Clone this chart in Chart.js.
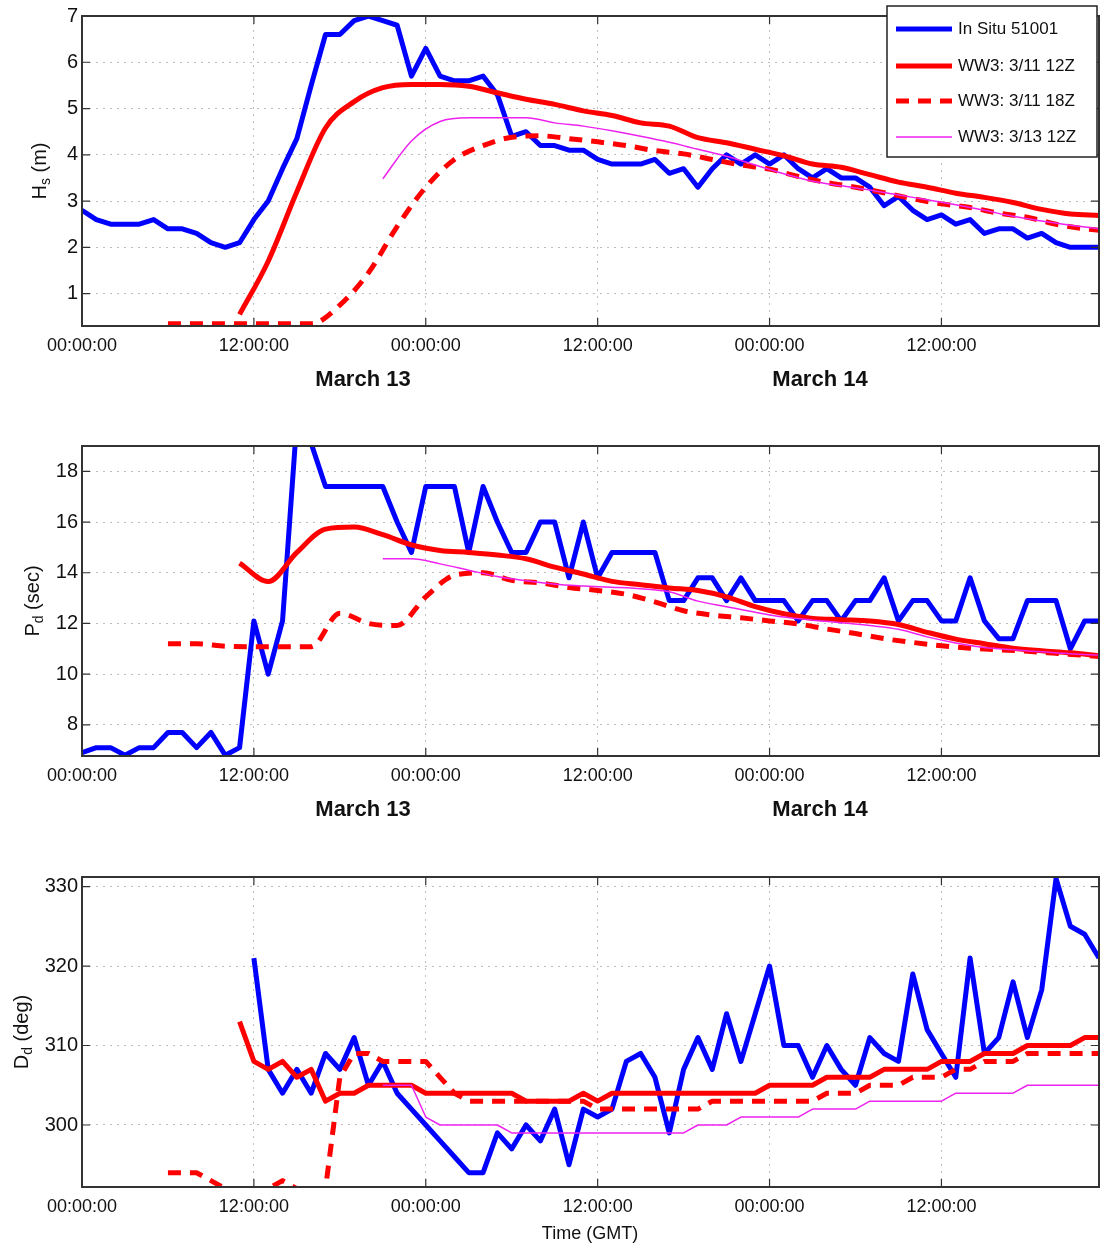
<!DOCTYPE html>
<html>
<head>
<meta charset="utf-8">
<script src="https://cdn.jsdelivr.net/npm/chart.js@4.4.1/dist/chart.umd.min.js"></script>
<style>
  body { margin: 0; background: #fff; }
  #wrap { position: relative; width: 1100px; height: 1249px; }
  canvas { position: absolute; left: 0; }
</style>
</head>
<body>
<div id="wrap">
  <canvas id="hsChart" width="1100" height="420" style="top:0px"></canvas>
  <canvas id="pdChart" width="1100" height="420" style="top:420px"></canvas>
  <canvas id="ddChart" width="1100" height="409" style="top:840px"></canvas>
</div>
<script>
// time axis is in hours after 00:00 GMT of the first day shown
const xTickHours = [0, 12, 24, 36, 48, 60];
const xTickLabels = ['00:00:00', '12:00:00', '00:00:00', '12:00:00', '00:00:00', '12:00:00'];
const dayLabels = ['March 13', 'March 14'];
const seriesNames = ['In Situ 51001', 'WW3: 3/11 12Z', 'WW3: 3/11 18Z', 'WW3: 3/13 12Z'];

const hsTicks = [1, 2, 3, 4, 5, 6, 7];
const pdTicks = [8, 10, 12, 14, 16, 18];
const ddTicks = [300, 310, 320, 330];

function hourRange(start, end, step) {
  const out = [];
  for (let h = start; h <= end; h += step) out.push(h);
  if (out[out.length - 1] !== end) out.push(end);
  return out;
}

const obsHours = hourRange(0, 71, 1);
const runAHours = hourRange(11, 71, 2);
const runBHours = hourRange(6, 71, 2);
const runCHours = hourRange(21, 71, 2);
const obsDirHours = hourRange(12, 71, 1);
const runADirHours = hourRange(11, 71, 1);
const runBDirHours = hourRange(6, 71, 1);
const runCDirHours = hourRange(21, 71, 1);

// significant wave height (m)
const hsObs = [2.8, 2.6, 2.5, 2.5, 2.5, 2.6, 2.4, 2.4, 2.3, 2.1,
  2.0, 2.1, 2.6, 3.0, 3.7, 4.35, 5.5, 6.6, 6.6, 6.9,
  7.0, 6.9, 6.8, 5.7, 6.3, 5.7, 5.6, 5.6, 5.7, 5.3,
  4.4, 4.5, 4.2, 4.2, 4.1, 4.1, 3.9, 3.8, 3.8, 3.8,
  3.9, 3.6, 3.7, 3.3, 3.7, 4.0, 3.8, 4.0, 3.8, 4.0,
  3.7, 3.5, 3.7, 3.5, 3.5, 3.3, 2.9, 3.1, 2.8, 2.6,
  2.7, 2.5, 2.6, 2.3, 2.4, 2.4, 2.2, 2.3, 2.1, 2.0,
  2.0, 2.0];
const hsRunA = [0.55, 1.7, 3.2, 4.58, 5.15, 5.45, 5.52, 5.52, 5.48, 5.34,
  5.2, 5.09, 4.95, 4.85, 4.69, 4.62, 4.37, 4.26, 4.12, 3.98,
  3.8, 3.73, 3.57, 3.41, 3.3, 3.17, 3.08, 2.97, 2.82, 2.72, 2.69];
const hsRunB = [0.35, 0.35, 0.35, 0.35, 0.35, 0.35, 0.75, 1.45, 2.45, 3.3,
  3.9, 4.2, 4.38, 4.41, 4.35, 4.28, 4.2, 4.09, 4.02, 3.9,
  3.78, 3.69, 3.53, 3.4, 3.3, 3.18, 3.05, 2.94, 2.86, 2.74,
  2.65, 2.5, 2.4, 2.37];
const hsRunC = [3.48, 4.3, 4.72, 4.8, 4.8, 4.8, 4.69, 4.62, 4.52, 4.4,
  4.27, 4.12, 3.97, 3.78, 3.59, 3.43, 3.33, 3.24, 3.13, 3.03,
  2.92, 2.8, 2.67, 2.57, 2.48, 2.4];

// dominant period (sec)
const pdObs = [6.9, 7.1, 7.1, 6.8, 7.1, 7.1, 7.7, 7.7, 7.1, 7.7,
  6.8, 7.1, 12.1, 10.0, 12.1, 20.0, 19.1, 17.4, 17.4, 17.4,
  17.4, 17.4, 16.0, 14.8, 17.4, 17.4, 17.4, 14.8, 17.4, 16.0,
  14.8, 14.8, 16.0, 16.0, 13.8, 16.0, 13.8, 14.8, 14.8, 14.8,
  14.8, 12.9, 12.9, 13.8, 13.8, 12.9, 13.8, 12.9, 12.9, 12.9,
  12.1, 12.9, 12.9, 12.1, 12.9, 12.9, 13.8, 12.1, 12.9, 12.9,
  12.1, 12.1, 13.8, 12.1, 11.4, 11.4, 12.9, 12.9, 12.9, 11.0,
  12.1, 12.1];
const pdRunA = [14.38, 13.65, 14.8, 15.72, 15.8, 15.5, 15.1, 14.88, 14.8, 14.7,
  14.55, 14.22, 13.95, 13.66, 13.53, 13.4, 13.3, 13.05, 12.66, 12.38,
  12.2, 12.15, 12.1, 11.96, 11.65, 11.38, 11.2, 11.02, 10.92, 10.84, 10.72];
const pdRunB = [11.2, 11.2, 11.1, 11.08, 11.08, 11.08, 12.4, 12.0, 11.92, 13.05,
  13.9, 14.0, 13.7, 13.6, 13.42, 13.3, 13.15, 12.85, 12.5, 12.33,
  12.22, 12.1, 11.98, 11.78, 11.6, 11.4, 11.25, 11.12, 11.02, 10.96,
  10.9, 10.82, 10.74, 10.7];
const pdRunC = [14.55, 14.55, 14.35, 14.1, 13.85, 13.68, 13.55, 13.48, 13.43, 13.37,
  13.25, 12.88, 12.66, 12.44, 12.25, 12.13, 12.03, 11.92, 11.77, 11.47,
  11.23, 11.05, 10.96, 10.88, 10.8, 10.75];

// dominant direction (deg)
const ddObs = [321, 307, 304, 307, 304, 309, 307, 311, 305, 308,
  304, 302, 300, 298, 296, 294, 294, 299, 297, 300,
  298, 302, 295, 302, 301, 302, 308, 309, 306, 299,
  307, 311, 307, 314, 308, 314, 320, 310, 310, 306,
  310, 307, 305, 311, 309, 308, 319, 312, 309, 306,
  321, 309, 311, 318, 311, 317, 331, 325, 324, 321];
const ddRunA = [313, 308, 307, 308, 306, 307, 303, 304, 304, 305,
  305, 305, 305, 304, 304, 304, 304, 304, 304, 304,
  303, 303, 303, 303, 304, 303, 304,
  304, 304, 304, 304, 304, 304, 304, 304, 304, 304,
  305, 305, 305, 305, 306, 306, 306, 306, 307, 307, 307, 307,
  308, 308, 308, 309, 309, 309, 310, 310, 310, 310, 311, 311];
const ddRunB = [294, 294, 294, 293, 292, 292, 292, 292, 293, 292,
  292, 292, 306, 309, 309, 308, 308, 308, 308, 306,
  304, 303, 303, 303, 303, 303, 303, 303, 303, 303,
  302, 302, 302, 302, 302, 302, 302, 302,
  303, 303, 303, 303, 303, 303, 303, 303,
  304, 304, 304, 305, 305, 305, 306, 306, 306, 307, 307,
  308, 308, 308, 309, 309, 309, 309, 309, 309];
const ddRunC = [305, 305, 305, 301, 300, 300, 300, 300, 300,
  299, 299, 299, 299, 299, 299, 299, 299, 299, 299, 299, 299, 299,
  300, 300, 300, 301, 301, 301, 301, 301,
  302, 302, 302, 302, 303, 303, 303, 303, 303, 303,
  304, 304, 304, 304, 304, 305, 305, 305, 305, 305, 305];

const fontFamily = '"Liberation Sans", Arial, Helvetica, sans-serif';
const blue = '#0000ff';
const red = '#ff0000';
const magenta = '#ee22ee';

function pts(hours, vals) {
  return hours.map((h, i) => ({ x: h, y: vals[i] }));
}

function lineSets(obs, a, b, c, smooth) {
  const mode = smooth ? 'monotone' : 'default';
  return [
    { label: seriesNames[0], data: obs, borderColor: blue, borderWidth: 5, order: 4 },
    { label: seriesNames[1], data: a, borderColor: red, borderWidth: 5, order: 3, cubicInterpolationMode: mode },
    { label: seriesNames[2], data: b, borderColor: red, borderWidth: 5, borderDash: [13, 9], order: 2, cubicInterpolationMode: mode },
    { label: seriesNames[3], data: c, borderColor: magenta, borderWidth: 1.5, order: 1, cubicInterpolationMode: mode }
  ].map(d => Object.assign(d, { pointRadius: 0, fill: false, clip: 0, borderJoinStyle: 'round' }));
}

// matlab style box, inward ticks, axis titles and the legend
const matlabFrame = {
  id: 'matlabFrame',
  afterDatasetsDraw(chart, args, opts) {
    const { ctx, chartArea: a } = chart;
    const x = chart.scales.x, y = chart.scales.y;
    ctx.save();
    ctx.strokeStyle = '#333';
    ctx.lineWidth = 1.2;
    ctx.beginPath();
    x.ticks.forEach(t => {
      const px = x.getPixelForValue(t.value);
      ctx.moveTo(px, a.bottom); ctx.lineTo(px, a.bottom - 8);
      ctx.moveTo(px, a.top); ctx.lineTo(px, a.top + 8);
    });
    y.ticks.forEach(t => {
      const py = y.getPixelForValue(t.value);
      ctx.moveTo(a.left, py); ctx.lineTo(a.left + 8, py);
      ctx.moveTo(a.right, py); ctx.lineTo(a.right - 8, py);
    });
    ctx.stroke();
    ctx.lineWidth = 2;
    ctx.strokeRect(a.left, a.top, a.right - a.left, a.bottom - a.top);

    // y title with subscript, rotated
    const t = opts.yTitle;
    ctx.fillStyle = '#111';
    ctx.translate(t.x, (a.top + a.bottom) / 2);
    ctx.rotate(-Math.PI / 2);
    ctx.textBaseline = 'middle';
    ctx.textAlign = 'left';
    ctx.font = '20px ' + fontFamily;
    const w1 = ctx.measureText(t.main).width;
    const w3 = ctx.measureText(t.rest).width;
    ctx.font = '14px ' + fontFamily;
    const w2 = ctx.measureText(t.sub).width;
    let cx = -(w1 + w2 + w3) / 2;
    ctx.font = '20px ' + fontFamily;
    ctx.fillText(t.main, cx, 0);
    cx += w1;
    ctx.font = '14px ' + fontFamily;
    ctx.fillText(t.sub, cx, 6);
    cx += w2;
    ctx.font = '20px ' + fontFamily;
    ctx.fillText(t.rest, cx, 0);
    ctx.setTransform(1, 0, 0, 1, 0, 0);

    ctx.textAlign = 'center';
    if (opts.days) {
      ctx.font = 'bold 22px ' + fontFamily;
      ctx.fillText(dayLabels[0], 363, a.bottom + 54);
      ctx.fillText(dayLabels[1], 820, a.bottom + 54);
    }
    if (opts.xTitle) {
      ctx.font = '18px ' + fontFamily;
      ctx.fillText(opts.xTitle, 590, a.bottom + 47);
    }

    if (opts.legend) {
      ctx.fillStyle = '#fff';
      ctx.fillRect(887, 6, 210, 151);
      ctx.strokeStyle = '#222';
      ctx.lineWidth = 1.5;
      ctx.strokeRect(887, 6, 210, 151);
      const rows = [29, 66, 101, 137];
      chart.data.datasets.forEach((ds, i) => {
        ctx.beginPath();
        ctx.strokeStyle = ds.borderColor;
        ctx.lineWidth = ds.borderWidth;
        ctx.setLineDash(ds.borderDash || []);
        ctx.moveTo(896, rows[i]);
        ctx.lineTo(952, rows[i]);
        ctx.stroke();
        ctx.setLineDash([]);
        ctx.fillStyle = '#111';
        ctx.textAlign = 'left';
        ctx.font = '17px ' + fontFamily;
        ctx.fillText(ds.label, 958, rows[i]);
      });
    }
    ctx.restore();
  }
};

function makePanel(id, p) {
  const gridOpts = { color: '#bdbdbd', lineWidth: 1, drawTicks: false };
  const borderOpts = { display: false, dash: [2, 5] };
  return new Chart(document.getElementById(id), {
    type: 'line',
    data: { datasets: p.datasets },
    options: {
      responsive: false,
      animation: false,
      layout: { padding: { top: p.top, right: 1, left: 0, bottom: 0 } },
      scales: {
        x: {
          type: 'linear', min: 0, max: 71,
          afterFit: s => { s.height = p.xHeight; },
          afterBuildTicks: s => { s.ticks = xTickHours.map(v => ({ value: v })); },
          ticks: {
            callback: (v, i) => xTickLabels[i],
            font: { family: fontFamily, size: 18 }, color: '#111',
            padding: 9, maxRotation: 0, autoSkip: false
          },
          grid: gridOpts,
          border: borderOpts
        },
        y: {
          type: 'linear', min: p.yMin, max: p.yMax,
          afterFit: s => { s.width = 82; },
          afterBuildTicks: s => { s.ticks = p.yTicks.map(v => ({ value: v })); },
          ticks: { font: { family: fontFamily, size: 20 }, color: '#111', padding: 4 },
          grid: gridOpts,
          border: borderOpts
        }
      },
      plugins: {
        legend: { display: false },
        tooltip: { enabled: false },
        matlabFrame: p.frame
      }
    },
    plugins: [matlabFrame]
  });
}

makePanel('hsChart', {
  top: 15, xHeight: 94, yMin: 0.3, yMax: 7, yTicks: hsTicks,
  datasets: lineSets(pts(obsHours, hsObs), pts(runAHours, hsRunA), pts(runBHours, hsRunB), pts(runCHours, hsRunC), true),
  frame: { yTitle: { main: 'H', sub: 's', rest: ' (m)', x: 40 }, days: true, legend: true }
});

makePanel('pdChart', {
  top: 26, xHeight: 84, yMin: 6.77, yMax: 19, yTicks: pdTicks,
  datasets: lineSets(pts(obsHours, pdObs), pts(runAHours, pdRunA), pts(runBHours, pdRunB), pts(runCHours, pdRunC), true),
  frame: { yTitle: { main: 'P', sub: 'd', rest: ' (sec)', x: 33 }, days: true }
});

makePanel('ddChart', {
  top: 37, xHeight: 62, yMin: 292.2, yMax: 331.2, yTicks: ddTicks,
  datasets: lineSets(pts(obsDirHours, ddObs), pts(runADirHours, ddRunA), pts(runBDirHours, ddRunB), pts(runCDirHours, ddRunC), false),
  frame: { yTitle: { main: 'D', sub: 'd', rest: ' (deg)', x: 22 }, xTitle: 'Time (GMT)' }
});
</script>
</body>
</html>
